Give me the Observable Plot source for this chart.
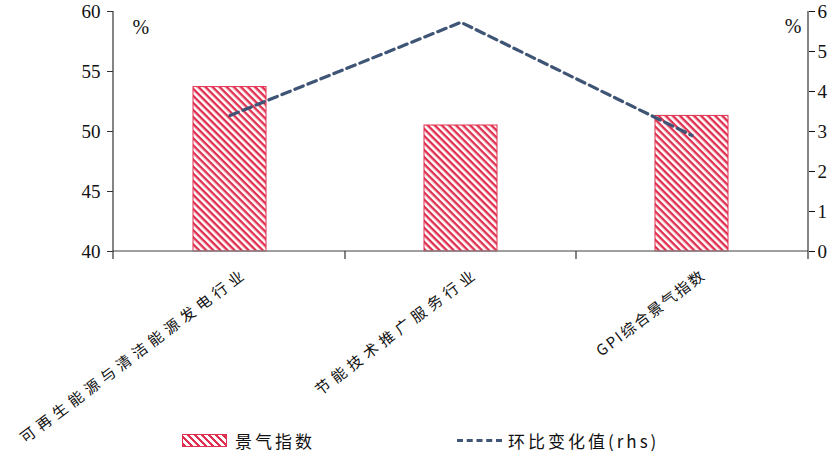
<!DOCTYPE html>
<html><head><meta charset="utf-8">
<script src="https://cdn.jsdelivr.net/npm/d3@7"></script>
<script src="https://cdn.jsdelivr.net/npm/@observablehq/plot@0.6"></script>
<style>
body{margin:0;background:#fff;}
#chart{position:relative;width:840px;}
#chart svg{overflow:visible;display:block;}
.xlab text{letter-spacing:5px;}
.xlab2 text{letter-spacing:2px;}
#legend{position:relative;width:840px;height:34px;font-family:"Noto Sans CJK SC",sans-serif;font-size:17px;color:#111;}
.item{position:absolute;top:2px;display:flex;align-items:center;height:24px;}
.sw{width:45px;height:13px;margin-right:8px;box-sizing:border-box;border:1px solid #e0304f;
 background:repeating-linear-gradient(45deg,#e0304f 0 2.5px,#fff 2.5px 5px);}
.dash{width:45px;height:0;border-top:3px dashed #3f5575;margin-right:6px;}
.lt{letter-spacing:3px;}
</style></head><body>
<div id="chart"></div>
<div id="legend">
  <div class="item" style="left:182px"><div class="sw"></div><span class="lt">景气指数</span></div>
  <div class="item" style="left:457px"><div class="dash"></div><span class="lt">环比变化值(rhs)</span></div>
</div>
<script>
const categories = ["可再生能源与清洁能源发电行业","节能技术推广服务行业","GPI综合景气指数"];
const indexValues = [53.7, 50.5, 51.3];
const momValues = [3.4, 5.73, 2.9];
const leftTicks = [40, 45, 50, 55, 60];
const rightTicks = [0, 1, 2, 3, 4, 5, 6];
const leftDomain = [40, 60];
const rightDomain = [0, 6];

const k = (leftDomain[1] - leftDomain[0]) / (rightDomain[1] - rightDomain[0]);
const toLeft = v => leftDomain[0] + (v - rightDomain[0]) * k;
const fromLeft = d => Math.round(rightDomain[0] + (d - leftDomain[0]) / k);

const data = categories.map((c, i) => ({cat: c, idx: indexValues[i], mom: toLeft(momValues[i])}));

const RED = "#e0304f", BLUE = "#3f5575";

function frameLines(index, scales, values, dims) {
  const {width, height, marginLeft, marginRight, marginTop, marginBottom} = dims;
  const x0 = marginLeft, x1 = width - marginRight, yb = height - marginBottom, yt = marginTop;
  const g = d3.create("svg:g");
  g.append("line").attr("x1", x0).attr("x2", x1).attr("y1", yb).attr("y2", yb)
    .attr("stroke", "#7f7f7f").attr("stroke-width", 1.5);
  [x0, x1].forEach(x => g.append("line").attr("x1", x).attr("x2", x).attr("y1", yt).attr("y2", yb + 8)
    .attr("stroke", "#333").attr("stroke-width", 1.2));
  categories.slice(1).forEach(c => {
    const x = scales.x(c);
    g.append("line").attr("x1", x).attr("x2", x).attr("y1", yb).attr("y2", yb + 8)
      .attr("stroke", "#333").attr("stroke-width", 1.2);
  });
  return g.node();
}

const chart = Plot.plot({
  width: 840,
  height: 426,
  marginLeft: 113,
  marginRight: 32,
  marginTop: 11,
  marginBottom: 175,
  style: {background: "#fff", color: "#111"},
  x: {domain: categories, padding: 0, axis: null},
  y: {domain: leftDomain, axis: null},
  marks: [
    Plot.barY(data, {x: "cat", y1: leftDomain[0], y2: "idx", fill: "url(#hatch)", stroke: RED, strokeWidth: 1, insetLeft: 79, insetRight: 79}),
    Plot.line(data, {x: "cat", y: "mom", stroke: BLUE, strokeWidth: 3.2, strokeDasharray: "9,5"}),
    frameLines,
    Plot.axisY(leftTicks, {anchor: "left", tickSize: 6, tickPadding: 7, fontSize: 19, fontFamily: "Liberation Serif", stroke: "#333"}),
    Plot.axisY(rightTicks.map(toLeft), {anchor: "right", tickSize: 6, tickPadding: 3, fontSize: 19, fontFamily: "Liberation Serif", tickFormat: fromLeft}),
    Plot.text(["%"], {frameAnchor: "top-left", dx: 19, dy: 8, fontSize: 20, fontFamily: "Liberation Serif"}),
    Plot.text(["%"], {frameAnchor: "top-right", dx: -7, dy: 7, fontSize: 20, fontFamily: "Liberation Serif", textAnchor: "end"}),
    Plot.text(categories.slice(0, 2), {x: d => d, frameAnchor: "bottom", rotate: -37, textAnchor: "end", lineAnchor: "middle",
      dx: 16, dy: 20, fontSize: 15, fontFamily: "Noto Sans CJK SC", fill: "#111", className: "xlab"}),
    Plot.text(categories.slice(2), {x: d => d, frameAnchor: "bottom", rotate: -37, textAnchor: "end", lineAnchor: "middle",
      dx: 12, dy: 22, fontSize: 15, fontFamily: "Noto Sans CJK SC", fill: "#111", className: "xlab2"})
  ]
});

const svg = d3.select(chart);
const defs = svg.insert("defs", ":first-child");
const pat = defs.append("pattern").attr("id", "hatch").attr("patternUnits", "userSpaceOnUse")
  .attr("width", 5).attr("height", 5).attr("patternTransform", "rotate(45)");
pat.append("rect").attr("width", 5).attr("height", 5).attr("fill", "#fff");
pat.append("rect").attr("width", 5).attr("height", 2.4).attr("fill", RED);

document.getElementById("chart").appendChild(chart);
</script>
</body></html>
